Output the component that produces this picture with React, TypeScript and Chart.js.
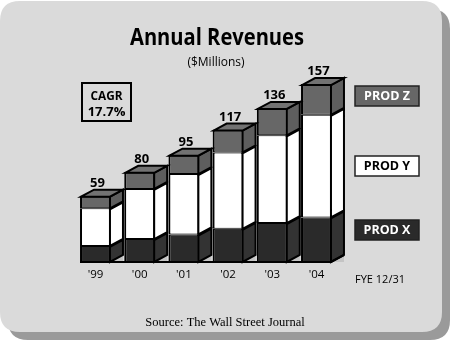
import React, { useEffect, useRef } from "react";
import { Chart, registerables } from "chart.js";
Chart.register(...registerables);

const categories = ["'99", "'00", "'01", "'02", "'03", "'04"];
const prodX = [15, 21, 25, 30, 35, 40];
const prodY = [33, 44, 53, 67, 77, 90];
const prodZ = [11, 15, 17, 20, 24, 27];
const totals = [59, 80, 95, 117, 136, 157];
const seriesNames = ["PROD X", "PROD Y", "PROD Z"];
const titleText = "Annual Revenues";
const subtitleText = "($Millions)";
const cagrLines = ["CAGR", "17.7%"];
const fyeText = "FYE 12/31";
const sourceText = "Source: The Wall Street Journal";

const SANS = '"Open Sans", "Noto Sans", sans-serif';
const SERIF = '"Liberation Serif", "Times New Roman", serif';

const frontColors = ["#2a2a2a", "#ffffff", "#676767"];
const sideColors = ["#333333", "#ffffff", "#5e5e5e"];
const topColor = "#727272";
const DX = 13;
const DY = 7;

function roundRect(ctx: CanvasRenderingContext2D, x: number, y: number, w: number, h: number, r: number) {
  ctx.beginPath();
  ctx.moveTo(x + r, y);
  ctx.lineTo(x + w - r, y);
  ctx.quadraticCurveTo(x + w, y, x + w, y + r);
  ctx.lineTo(x + w, y + h - r);
  ctx.quadraticCurveTo(x + w, y + h, x + w - r, y + h);
  ctx.lineTo(x + r, y + h);
  ctx.quadraticCurveTo(x, y + h, x, y + h - r);
  ctx.lineTo(x, y + r);
  ctx.quadraticCurveTo(x, y, x + r, y);
  ctx.closePath();
}

function narrowText(ctx: CanvasRenderingContext2D, text: string, cx: number, y: number, width: number) {
  const w = ctx.measureText(text).width;
  const s = Math.min(1, width / w);
  ctx.save();
  ctx.translate(cx, y);
  ctx.scale(s, 1);
  ctx.textAlign = "center";
  ctx.fillText(text, 0, 0);
  ctx.restore();
}

const decor = {
  id: "decor",
  beforeDraw(chart: any) {
    const ctx = chart.ctx as CanvasRenderingContext2D;
    ctx.save();
    ctx.fillStyle = "#ffffff";
    ctx.fillRect(0, 0, chart.width, chart.height);
    ctx.fillStyle = "#9a9a9a";
    roundRect(ctx, 8, 9, 442, 331, 20);
    ctx.fill();
    ctx.fillStyle = "#dadada";
    roundRect(ctx, 0, 1, 442, 331, 20);
    ctx.fill();
    ctx.restore();
  },
  afterDatasetsDraw(chart: any) {
    const ctx = chart.ctx as CanvasRenderingContext2D;
    const base = chart.scales.y.getPixelForValue(0);
    ctx.save();
    ctx.lineWidth = 2;
    ctx.strokeStyle = "#000";
    ctx.lineJoin = "miter";
    const n = categories.length;
    for (let i = 0; i < n; i++) {
      const el0 = chart.getDatasetMeta(0).data[i];
      const r0 = el0.x + el0.width / 2 - 1;
      ctx.beginPath();
      ctx.moveTo(r0, base - 1);
      ctx.lineTo(r0 + DX, base - 1 - DY);
      ctx.lineTo(r0 + DX, base - 1);
      ctx.closePath();
      ctx.fillStyle = "#c4c4c4";
      ctx.fill();
      for (let d = 0; d < 3; d++) {
        const el = chart.getDatasetMeta(d).data[i];
        const l = el.x - el.width / 2 + 1;
        const r = el.x + el.width / 2 - 1;
        const yt = Math.min(el.y, el.base) + 1;
        const yb = Math.max(el.y, el.base) - (d === 0 ? 1 : 0);
        ctx.beginPath();
        ctx.moveTo(r, yt);
        ctx.lineTo(r + DX, yt - DY);
        ctx.lineTo(r + DX, yb - DY);
        ctx.lineTo(r, yb);
        ctx.closePath();
        ctx.fillStyle = sideColors[d];
        ctx.fill();
        ctx.stroke();
        if (d === 2) {
          ctx.beginPath();
          ctx.moveTo(l, yt);
          ctx.lineTo(l + DX, yt - DY);
          ctx.lineTo(r + DX, yt - DY);
          ctx.lineTo(r, yt);
          ctx.closePath();
          ctx.fillStyle = topColor;
          ctx.fill();
          ctx.stroke();
          ctx.fillStyle = "#000";
          ctx.font = `bold 13px ${SANS}`;
          ctx.textAlign = "center";
          ctx.textBaseline = "alphabetic";
          ctx.fillText(String(totals[i]), el.x + 2, yt - DY - 3);
        }
      }
    }
    const f = chart.getDatasetMeta(0).data[0];
    const last = chart.getDatasetMeta(0).data[n - 1];
    ctx.beginPath();
    ctx.moveTo(f.x - f.width / 2, base - 1);
    ctx.lineTo(last.x + last.width / 2 - 1, base - 1);
    ctx.lineTo(last.x + last.width / 2 - 1 + DX, base - 1 - DY);
    ctx.stroke();
    ctx.restore();
  },
  afterDraw(chart: any) {
    const ctx = chart.ctx as CanvasRenderingContext2D;
    ctx.save();
    ctx.textAlign = "center";
    ctx.textBaseline = "alphabetic";
    ctx.fillStyle = "#000";
    ctx.font = `bold 24px ${SANS}`;
    narrowText(ctx, titleText, 217, 45, 174);
    ctx.font = `12px ${SANS}`;
    ctx.fillText(subtitleText, 216, 66);
    ctx.lineWidth = 2;
    ctx.strokeStyle = "#000";
    ctx.strokeRect(82, 83, 49, 38);
    ctx.font = `bold 13px ${SANS}`;
    narrowText(ctx, cagrLines[0], 106.5, 100, 32);
    narrowText(ctx, cagrLines[1], 106.5, 116, 38);
    const boxes = [
      { y: 220, d: 0, txt: "#fff" },
      { y: 156, d: 1, txt: "#000" },
      { y: 86, d: 2, txt: "#fff" },
    ];
    for (const b of boxes) {
      ctx.fillStyle = frontColors[b.d];
      ctx.fillRect(355, b.y, 64, 20);
      ctx.lineWidth = 1.5;
      ctx.strokeStyle = "#222";
      ctx.strokeRect(355, b.y, 64, 20);
      ctx.fillStyle = b.txt;
      ctx.font = `bold 12.5px ${SANS}`;
      ctx.textBaseline = "middle";
      ctx.fillText(seriesNames[b.d], 387, b.y + 10.5);
    }
    ctx.fillStyle = "#000";
    ctx.textBaseline = "alphabetic";
    ctx.font = `11px ${SANS}`;
    ctx.fillText(fyeText, 380, 283);
    ctx.font = `12.5px ${SERIF}`;
    ctx.fillText(sourceText, 225, 326);
    ctx.restore();
  },
};

export default function App() {
  const ref = useRef<HTMLCanvasElement>(null);
  useEffect(() => {
    if (!ref.current) return;
    const mk = (d: number, data: number[]) => ({
      label: seriesNames[d],
      data,
      backgroundColor: frontColors[d],
      borderColor: "#000",
      borderWidth:
        d === 0
          ? { top: 1, bottom: 2, left: 2, right: 2 }
          : d === 1
          ? { top: 1, bottom: 1, left: 2, right: 2 }
          : { top: 2, bottom: 1, left: 2, right: 2 },
      borderSkipped: false,
      barPercentage: 0.7,
      categoryPercentage: 1,
    });
    const chart = new Chart(ref.current, {
      type: "bar",
      data: {
        labels: categories,
        datasets: [mk(0, prodX), mk(1, prodY), mk(2, prodZ)],
      },
      options: {
        responsive: false,
        animation: false,
        devicePixelRatio: 1,
        layout: { padding: { left: 73.4, right: 113.4, top: 35, bottom: 58 } },
        plugins: { legend: { display: false }, title: { display: false }, tooltip: { enabled: false } },
        scales: {
          x: {
            stacked: true,
            grid: { display: false, drawTicks: false },
            border: { display: false },
            ticks: { color: "#000", font: { family: SANS, size: 11.5 }, padding: 5 },
            afterFit: (s: any) => {
              s.height = 20;
            },
          },
          y: { stacked: true, display: false, min: 0, max: 200 },
        },
      },
      plugins: [decor],
    } as any);
    return () => chart.destroy();
  }, []);
  return (
    <div style={{ position: "absolute", left: 0, top: 0, width: 452, height: 341 }}>
      <canvas ref={ref} width={452} height={341} style={{ width: 452, height: 341 }} />
    </div>
  );
}
